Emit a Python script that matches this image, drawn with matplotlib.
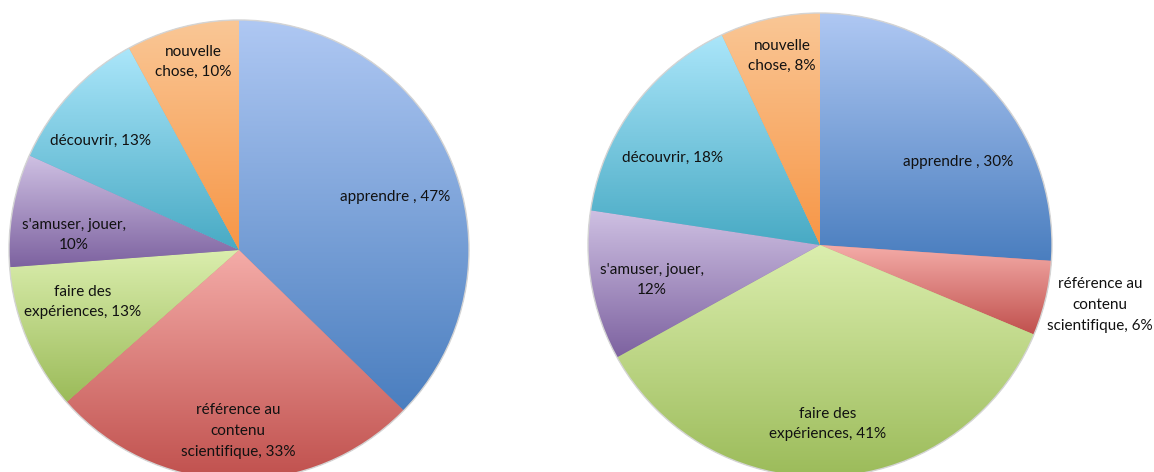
import numpy as np
import matplotlib.pyplot as plt
from matplotlib.colors import LinearSegmentedColormap

# data (Excel normalises the slices to the sum)
categories = ["apprendre", "référence au contenu scientifique", "faire des expériences",
              "s'amuser, jouer", "découvrir", "nouvelle chose"]
values_left = [47, 33, 13, 10, 13, 10]
values_right = [30, 6, 41, 12, 18, 8]
labels_left = ["apprendre , 47%", "référence au\ncontenu\nscientifique, 33%",
               "faire des\nexpériences, 13%", "s'amuser, jouer,\n10%",
               "découvrir, 13%", "nouvelle\nchose, 10%"]
labels_right = ["apprendre , 30%", "référence au\ncontenu\nscientifique, 6%",
                "faire des\nexpériences, 41%", "s'amuser, jouer,\n12%",
                "découvrir, 18%", "nouvelle\nchose, 8%"]

# styles
colors_top = ["#afc8f3", "#f4aca8", "#dbeeae", "#cfc1e3", "#abe6fa", "#fac796"]
colors_bottom = ["#4a7ebf", "#c0504d", "#9bbb59", "#7d62a0", "#48aac4", "#f79646"]

W, H = 1154, 472

# layout in pixel coords (y from top)
left_center, left_radius = (239, 250), 230
right_center, right_radius = (820, 245), 232
label_pos_left = [(395, 197), (238, 431), (83, 302), (74, 235), (101, 141), (193, 62)]
label_pos_right = [(958, 162), (1100, 305), (828, 424), (652, 280), (672, 158), (782, 56)]


def draw_pie(ax, values, labels, center, radius, label_pos):
    cx, cy = center
    wedges, _ = ax.pie(values, center=(cx, H - cy), radius=radius, startangle=90,
                       counterclock=False, colors=colors_bottom,
                       wedgeprops=dict(linewidth=0))
    grad = np.linspace(0, 1, 256).reshape(-1, 1)
    for w, c0, c1 in zip(wedges, colors_bottom, colors_top):
        verts = w.get_patch_transform().transform(w.get_path().vertices)
        x0, y0 = verts.min(axis=0)
        x1, y1 = verts.max(axis=0)
        cmap = LinearSegmentedColormap.from_list("g", [c0, c1])
        im = ax.imshow(grad, extent=[x0, x1, y0, y1], origin="lower", cmap=cmap,
                       aspect="auto", zorder=2, interpolation="bilinear")
        im.set_clip_path(w)
    ring = plt.Circle((cx, H - cy), radius, fill=False, edgecolor="#d4d4d4",
                      linewidth=1.0, zorder=3)
    ax.add_patch(ring)
    for txt, (tx, ty) in zip(labels, label_pos):
        ax.text(tx, H - ty, txt, ha="center", va="center", fontsize=11,
                family="Lato", color="#111111", linespacing=1.6, zorder=4)


fig = plt.figure(figsize=(W / 100, H / 100), dpi=100)
ax = fig.add_axes([0, 0, 1, 1])
draw_pie(ax, values_left, labels_left, left_center, left_radius, label_pos_left)
draw_pie(ax, values_right, labels_right, right_center, right_radius, label_pos_right)
ax.set_xlim(0, W)
ax.set_ylim(0, H)
ax.set_aspect("equal")
ax.axis("off")

fig.savefig("out.png", dpi=100, facecolor="white")
